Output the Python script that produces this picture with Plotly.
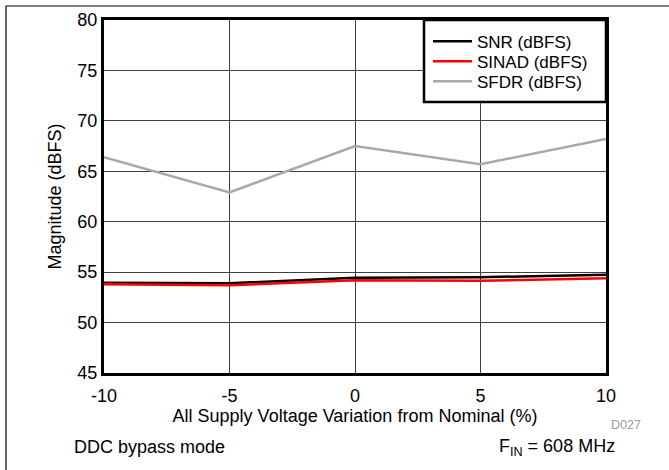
import plotly.graph_objects as go

voltage_variation = [-10, -5, 0, 5, 10]
snr = [53.95, 53.9, 54.45, 54.5, 54.75]
sinad = [53.8, 53.7, 54.2, 54.15, 54.4]
sfdr = [66.4, 62.9, 67.5, 65.7, 68.2]

x_ticks = [-10, -5, 0, 5, 10]
x_tick_text = ["-10", "-5", "0", "5", "10"]
y_ticks = [45, 50, 55, 60, 65, 70, 75, 80]

W, H = 669, 470
L, R, T, B = 104, 63, 20, 97
pw, ph = W - L - R, H - T - B

def px(xp):
    return (xp - L) / pw

def py(yp):
    return (H - B - yp) / ph

FONT = "Liberation Sans, Arial, sans-serif"
FS = 18

fig = go.Figure()
series = [("SNR (dBFS)", snr, "#000000", "legend"),
          ("SINAD (dBFS)", sinad, "#ff0000", "legend2"),
          ("SFDR (dBFS)", sfdr, "#a8a8a8", "legend3")]
for name, vals, col, lg in series:
    fig.add_trace(go.Scatter(x=voltage_variation, y=vals, mode="lines", name=name,
                             line=dict(color=col, width=2.5), legend=lg))

leg_common = dict(xanchor="left", yanchor="middle", bgcolor="rgba(0,0,0,0)",
                  borderwidth=0, font=dict(size=17), itemwidth=39)
row_y = [41.7, 61.7, 81.7]

fig.update_layout(
    width=W, height=H,
    margin=dict(l=L, r=R, t=T, b=B, pad=0),
    paper_bgcolor="white", plot_bgcolor="white",
    font=dict(family=FONT, size=FS, color="black"),
    showlegend=True,
    legend=dict(x=px(428), y=py(row_y[0]), **leg_common),
    legend2=dict(x=px(428), y=py(row_y[1]), **leg_common),
    legend3=dict(x=px(428), y=py(row_y[2]), **leg_common),
    xaxis=dict(range=[-10, 10], tickvals=x_ticks, ticktext=x_tick_text, ticks="",
               showgrid=True, gridcolor="#404040", gridwidth=1, zeroline=False,
               showline=True, linecolor="black", linewidth=3, mirror=True,
               ticklabelstandoff=4,
               title=dict(text="All Supply Voltage Variation from Nominal (%)", standoff=2,
                          font=dict(size=FS)),
               tickfont=dict(size=FS), automargin=False),
    yaxis=dict(range=[45, 80], tickvals=y_ticks, ticks="", showgrid=True,
               gridcolor="#404040", gridwidth=1, zeroline=False,
               showline=True, linecolor="black", linewidth=3, mirror=True,
               title=dict(text="Magnitude (dBFS)", standoff=12, font=dict(size=FS)),
               tickfont=dict(size=FS), automargin=False),
    shapes=[
        dict(type="rect", xref="paper", yref="paper", x0=px(424), x1=1, y0=py(102), y1=1,
             fillcolor="white", line=dict(color="black", width=2.5), layer="above"),
        dict(type="line", xref="paper", yref="paper", x0=px(6), x1=px(669), y0=py(6), y1=py(6),
             line=dict(color="black", width=1.2)),
        dict(type="line", xref="paper", yref="paper", x0=px(6), x1=px(6), y0=py(6), y1=py(470),
             line=dict(color="black", width=1.2)),
    ],
    annotations=[
        dict(text="D027", xref="paper", yref="paper", x=px(626), y=py(425), xanchor="center",
             yanchor="middle", showarrow=False, font=dict(size=12.5, color="#9a9a9a")),
        dict(text="DDC bypass mode", xref="paper", yref="paper", x=px(72), y=py(447),
             xanchor="left", yanchor="middle", showarrow=False, font=dict(size=FS)),
        dict(text="F<sub>IN</sub> = 608 MHz", xref="paper", yref="paper", x=px(617), y=py(447),
             xanchor="right", yanchor="middle", showarrow=False, font=dict(size=FS)),
    ],
)

fig.write_html("out.html", config={"displayModeBar": False},
               post_script="document.body.style.margin='0';")
